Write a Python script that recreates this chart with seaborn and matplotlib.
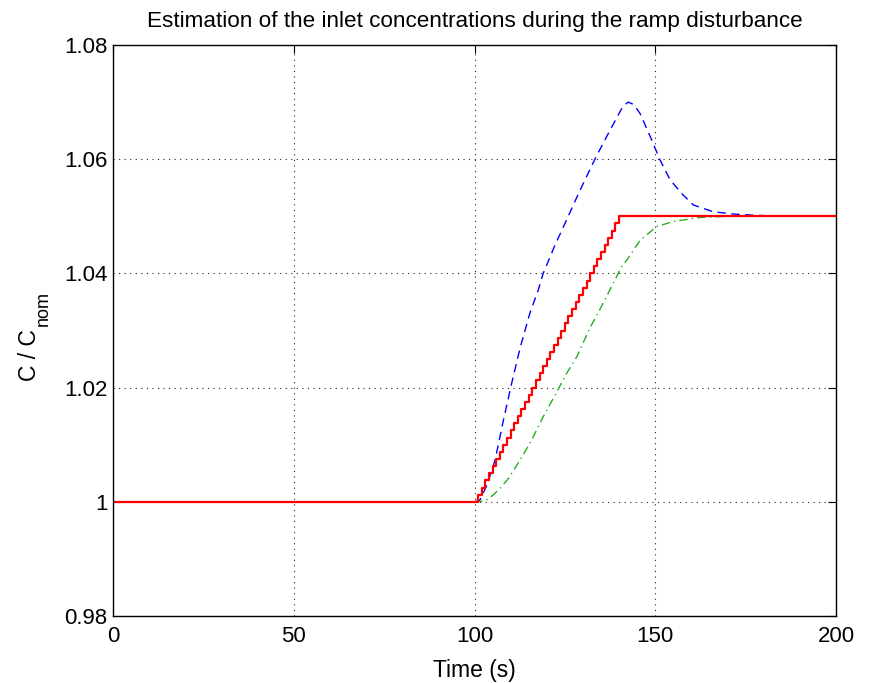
import matplotlib
matplotlib.use("Agg")
import matplotlib.pyplot as plt
import seaborn as sns
import pandas as pd

# ---- data ----
blue_t = [0, 100, 101.5, 103.5, 105.7, 108, 110.3, 112.6, 115.3, 117.7, 119.0, 122.3,
          125.5, 129.0, 133.3, 136.5, 139.3, 141, 142.5, 144, 145.8, 149, 151.3,
          154.1, 157.3, 160.5, 166, 171.6, 177, 185, 200]
blue_v = [1.0, 1.0, 1.0003, 1.003, 1.0073, 1.0143, 1.0208, 1.0269, 1.033, 1.0372,
          1.0400, 1.0450, 1.0494, 1.0543, 1.0600, 1.0639, 1.0672, 1.0692, 1.0700,
          1.0696, 1.068, 1.0634, 1.0599, 1.0564, 1.054, 1.052, 1.0508, 1.0504,
          1.0502, 1.0500, 1.0500]

green_t = [0, 101, 103.3, 105.2, 107.3, 109.4, 112.6, 115.8, 119, 122.3, 125.5,
           128.3, 131.9, 135.6, 138.4, 140.7, 142.1, 145.8, 150.4, 155, 162.4, 170, 200]
green_v = [1.0, 1.0, 1.0003, 1.0012, 1.0025, 1.0041, 1.0073, 1.0108, 1.0149, 1.0187,
           1.0225, 1.0254, 1.0304, 1.0348, 1.0383, 1.0412, 1.0423, 1.0458, 1.0482,
           1.0491, 1.0498, 1.0500, 1.0500]

red_t = [0, 100, 101, 102, 103, 104, 105, 106, 107, 108, 109, 110, 111, 112, 113,
         114, 115, 116, 117, 118, 119, 120, 121, 122, 123, 124, 125, 126, 127, 128,
         129, 130, 131, 132, 133, 134, 135, 136, 137, 138, 139, 140, 200]
red_v = [1.0, 1.0, 1.00125, 1.0025, 1.00375, 1.005, 1.00625, 1.0075, 1.00875, 1.01,
         1.01125, 1.0125, 1.01375, 1.015, 1.01625, 1.0175, 1.01875, 1.02, 1.02125,
         1.0225, 1.02375, 1.025, 1.02625, 1.0275, 1.02875, 1.03, 1.03125, 1.0325,
         1.03375, 1.035, 1.03625, 1.0375, 1.03875, 1.04, 1.04125, 1.0425, 1.04375,
         1.045, 1.04625, 1.0475, 1.04875, 1.05, 1.05]

x_ticks = [0, 50, 100, 150, 200]
y_ticks = [0.98, 1.0, 1.02, 1.04, 1.06, 1.08]
y_tick_labels = ["0.98", "1", "1.02", "1.04", "1.06", "1.08"]

title = "Estimation of the inlet concentrations during the ramp disturbance"
xlabel = "Time (s)"
ylabel_main = "C / C"
ylabel_sub = "nom"

# ---- style ----
sns.set_style("white")
plt.rcParams["font.family"] = ["Liberation Sans", "DejaVu Sans"]
plt.rcParams["text.color"] = "black"
plt.rcParams["axes.labelcolor"] = "black"

W, H = 875, 683
fig = plt.figure(figsize=(W / 100, H / 100), dpi=100)
ax = fig.add_axes([113 / W, 1 - 616 / H, (836 - 113) / W, (616 - 45) / H])

df_b = pd.DataFrame({"t": blue_t, "v": blue_v})
df_g = pd.DataFrame({"t": green_t, "v": green_v})
df_r = pd.DataFrame({"t": red_t, "v": red_v})

sns.lineplot(data=df_b, x="t", y="v", ax=ax, color="#0000ff", lw=1.0,
             linestyle=(0, (6, 4)), sort=False)
sns.lineplot(data=df_g, x="t", y="v", ax=ax, color="#22b022", lw=1.0,
             linestyle=(0, (6, 3, 1, 3)), sort=False)
sns.lineplot(data=df_r, x="t", y="v", ax=ax, color="#ff0000", lw=1.6,
             drawstyle="steps-post", sort=False)

ax.set_xlim(0, 200)
ax.set_ylim(0.98, 1.08)
ax.set_xticks(x_ticks)
ax.set_xticklabels([str(v) for v in x_ticks])
ax.set_yticks(y_ticks)
ax.set_yticklabels(y_tick_labels)

ax.grid(True, linestyle=(0, (1, 4)), color="#222222", lw=0.8)
for s in ax.spines.values():
    s.set_visible(True)
    s.set_color("black")
    s.set_linewidth(1.0)
ax.tick_params(direction="in", length=6, width=0.8, top=True, right=True,
               labelsize=16, colors="black")
ax.tick_params(axis="y", pad=4)
ax.tick_params(axis="x", pad=7)

ax.set_title(title, fontsize=16.2, pad=13, color="black")
ax.set_xlabel(xlabel, fontsize=16.5, labelpad=9, color="black")
ax.set_ylabel("")

# y label: main part plus a near-full-size subscript, as in the reference
fig.text(17.5 / W, 1 - 381 / H, ylabel_main, rotation=90, fontsize=16.5,
         ha="left", va="bottom", color="black")
fig.text(34.5 / W, 1 - 326 / H, ylabel_sub, rotation=90, fontsize=13,
         ha="left", va="bottom", color="black")

fig.savefig("out.png", dpi=100)
